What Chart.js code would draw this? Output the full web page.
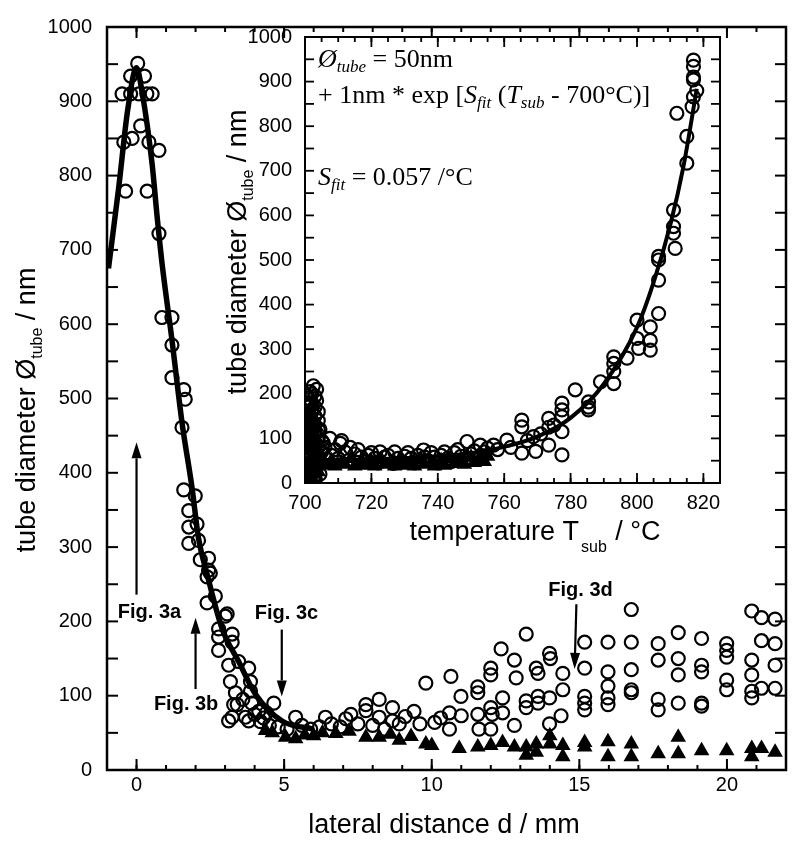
<!DOCTYPE html>
<html>
<head>
<meta charset="utf-8">
<script src="https://cdn.jsdelivr.net/npm/chart.js@4.4.1/dist/chart.umd.min.js"></script>
<style>
    html, body { margin: 0; padding: 0; background: #fff; }
    #wrap { position: relative; width: 799px; height: 845px; }
    #main { position: absolute; left: 0; top: 0; }
    #inset { position: absolute; left: 200px; top: 0; }
</style>
</head>
<body>
<div id="wrap">
    <canvas id="main" width="799" height="845"></canvas>
    <canvas id="inset" width="540" height="560"></canvas>
</div>
<script>
(function() {
    'use strict';

    // ---- main plot: lateral distance d (mm) vs tube diameter (nm)
    var mainXLabels = [0, 5, 10, 15, 20];
    var mainYLabels = [0, 100, 200, 300, 400, 500, 600, 700, 800, 900, 1000];

    var mainFit = [
        [-0.95, 675], [-0.6, 785], [-0.3, 888], [0, 945], [0.19, 912], [0.53, 815],
        [0.7, 744], [0.87, 680], [1.2, 579], [1.54, 468], [1.88, 380], [2.1, 312],
        [2.4, 262], [2.9, 190], [3.46, 146], [4.03, 102], [4.93, 66], [6.0, 55]
    ];

    var mainCircles = [
        [-0.2, 934], [0.04, 951], [0.27, 934], [-0.49, 910], [-0.2, 910], [0.08, 910],
        [0.35, 910], [0.53, 910], [0.14, 867], [-0.43, 845], [-0.15, 850], [0.42, 845],
        [0.76, 834], [-0.37, 779], [0.36, 779], [0.76, 722],
        [0.86, 609], [1.2, 609], [1.2, 572], [1.2, 528], [1.6, 512], [1.65, 499], [1.54, 461],
        [1.6, 377], [1.99, 369], [1.77, 349], [1.77, 327], [2.05, 331], [1.77, 305], [2.1, 309],
        [2.16, 283], [2.44, 285], [2.44, 269], [2.39, 260], [2.5, 265], [2.67, 234], [2.39, 225],
        [3.01, 207], [3.07, 210], [2.78, 190], [3.24, 183], [3.24, 172], [2.78, 179], [2.78, 161],
        [3.46, 146], [3.12, 141], [3.8, 137], [3.18, 119], [3.86, 119], [3.35, 104], [3.86, 106],
        [3.29, 88], [3.41, 88], [3.12, 66], [3.24, 71], [3.69, 71], [3.8, 66], [3.6, 95],
        [3.9, 90], [4.0, 75], [4.14, 79], [4.3, 70], [4.65, 90], [4.4, 77], [4.2, 65], [4.5, 60],
        [4.8, 58], [5.1, 55], [5.39, 71], [5.6, 60], [5.9, 55], [6.2, 58], [6.4, 71], [6.6, 62],
        [6.9, 58], [7.09, 69], [7.26, 75], [7.5, 62], [7.77, 88], [8.22, 95], [7.77, 80],
        [8.22, 71], [8.67, 84], [8.67, 66], [8.0, 60], [8.4, 55], [8.9, 62], [9.1, 72], [9.4, 79],
        [9.6, 62], [9.8, 117], [10.1, 64], [10.3, 70],
        [10.65, 126], [10.99, 99], [10.6, 77], [11.0, 73], [10.6, 55], [11.56, 112], [11.56, 104],
        [11.56, 75], [11.6, 55], [12.0, 137], [12.0, 128], [12.0, 84], [12.05, 75], [12.0, 55],
        [12.35, 163], [12.4, 97], [12.4, 77], [12.8, 148], [12.86, 124], [12.8, 60], [13.2, 183],
        [13.2, 93], [13.2, 84], [13.54, 137], [13.6, 130], [13.6, 99], [13.6, 90], [13.99, 157],
        [14.02, 150], [13.99, 97], [13.99, 62], [14.44, 130], [14.44, 108], [14.38, 73],
        [15.18, 172], [15.18, 137], [15.18, 99], [15.18, 90], [15.18, 81],
        [15.97, 172], [15.97, 132], [15.97, 113], [15.97, 97], [15.97, 88],
        [16.76, 216], [16.76, 172], [16.76, 135], [16.76, 108], [16.76, 104],
        [17.67, 170], [17.67, 148], [17.67, 95], [17.67, 81],
        [18.35, 185], [18.35, 150], [18.35, 128], [18.35, 90],
        [19.14, 177], [19.14, 141], [19.14, 132], [19.14, 90], [19.14, 86],
        [19.99, 170], [19.99, 161], [19.99, 152], [19.99, 121], [19.99, 108],
        [20.84, 214], [20.84, 148], [20.84, 128], [20.84, 106], [20.84, 97],
        [21.17, 205], [21.17, 174], [21.17, 110],
        [21.63, 203], [21.63, 170], [21.63, 141], [21.63, 110]
    ];

    var mainTriangles = [
        [4.37, 53], [4.6, 50], [5.05, 44], [5.39, 42], [5.7, 47], [6.0, 46], [6.3, 50],
        [6.75, 49], [7.2, 52], [7.77, 44], [8.22, 44], [8.6, 48], [8.9, 40], [9.3, 45],
        [9.8, 35], [10.0, 33], [10.93, 29], [11.56, 31], [12.0, 33], [12.4, 37], [12.8, 31],
        [13.2, 31], [13.2, 20], [13.54, 35], [13.54, 24], [14.0, 46], [14.0, 35], [14.44, 33],
        [14.44, 18], [15.18, 37], [15.18, 31], [15.97, 38], [15.97, 18], [16.76, 35],
        [16.76, 18], [17.67, 22], [18.35, 44], [18.35, 22], [19.14, 26], [19.99, 26],
        [20.84, 29], [20.84, 18], [21.17, 29], [21.63, 24]
    ];

    // ---- inset: substrate temperature (degC) vs tube diameter (nm)
    var insetXLabels = [700, 720, 740, 760, 780, 800, 820];
    var insetYLabels = [0, 100, 200, 300, 400, 500, 600, 700, 800, 900, 1000];

    var insetFit = [
        [700, 51], [720, 53], [740, 60], [750, 67], [760, 81], [770, 104], [780, 146],
        [790, 222], [800, 349], [805, 450], [810, 578], [814, 710], [818, 884]
    ];

    var insetCircles = [
        // dense cluster right at 700-705 degC
        [701, 10], [701, 30], [701, 50], [701, 70], [701, 90], [701, 110], [701, 130], [701, 150],
        [701, 170], [701, 190], [702, 20], [702, 40], [702, 60], [702, 80], [702, 100], [702, 120],
        [702, 140], [702, 160], [702, 180], [702, 200], [702.5, 218], [703, 10], [703, 30], [703, 50],
        [703, 70], [703, 90], [703, 110], [703, 130], [703, 150], [703, 170], [703, 195], [704, 40],
        [704, 60], [704, 80], [704, 100], [704, 120], [705, 70], [705, 95],
        [700.5, 20], [700.5, 60], [700.5, 100], [700.5, 140], [700.5, 180], [701.5, 205],
        [703.5, 185], [704, 160], [704, 140], [704.5, 20], [703.5, 210], [702.5, 8],
        // low plateau
        [704.5, 120], [705.5, 90], [706, 80], [707.5, 100], [708, 62], [709, 75], [710, 55],
        [710.6, 89], [711, 95], [712, 70], [713, 50], [713.6, 80], [715, 65], [716, 75], [717, 58],
        [718, 48], [719, 62], [720, 68], [721, 55], [722, 45], [722.6, 70], [724, 58], [725, 62],
        [726.6, 44], [727, 70], [728, 55], [729, 48], [730, 60], [731, 68], [732, 55], [733, 45],
        [734, 62], [735.7, 74], [736, 58], [737, 50], [738, 68], [739, 58], [740, 45], [741, 62],
        [742, 70], [743, 55], [744, 48], [745, 68], [746, 75], [747, 60], [748.8, 93], [749, 55],
        [750, 65], [751, 72], [752.8, 85], [753, 62], [754, 70], [755, 78], [756.8, 85], [758, 75],
        // rising branch
        [760.8, 96], [762, 80], [765.3, 141], [765.3, 126], [765.3, 67],
        [767, 95], [768.8, 104], [769.5, 71], [771, 110], [773.4, 145], [773.4, 125], [773.4, 85],
        [775, 130], [777.4, 179], [777.4, 164], [777.4, 149], [777.4, 115], [777.4, 63],
        [781.4, 209], [785.4, 182], [785.4, 164], [785.4, 170], [789, 227], [793, 283], [793, 268],
        [793, 250], [793, 223], [797, 280], [800, 365], [800, 324], [800.5, 302], [804, 350],
        [804, 320], [804, 298], [806.5, 380], [806.5, 455], [806.5, 500], [806.5, 508],
        [811.5, 526], [811, 560], [811, 612], [811, 575], [815, 717], [815, 777], [812, 829],
        [816.6, 844], [817, 866], [817, 904], [817, 934], [817, 948], [817, 910], [818, 880]
    ];

    var insetTriangles = [
        [701, 15], [701, 45], [701, 75], [701, 105], [701, 135], [702, 10], [702, 30], [702, 60],
        [702, 90], [702, 120], [702, 150], [703, 20], [703, 45], [703, 75], [703, 105], [703, 140],
        [704, 25], [704, 55], [705, 55], [706, 40], [708, 50], [709, 38], [711, 45], [712, 42],
        [714, 55], [715, 38], [717, 50], [718, 40], [720, 48], [721, 38], [723, 52], [724, 42],
        [726, 45], [727, 38], [729, 50], [730, 40], [732, 48], [733, 38], [735, 52], [736, 42],
        [738, 45], [739, 38], [741, 50], [742, 40], [744, 55], [745, 44], [747, 52], [748, 42],
        [750, 58], [751, 46], [753, 55], [754, 48], [755, 60],
        [701.5, 165], [702.5, 175], [703.5, 125], [703.5, 90], [700.5, 40], [700.5, 120]
    ];

    // annotation arrows on the main plot (data coordinates)
    var figNotes = [
        { text: 'Fig. 3a', tx: 0.44, ty: 205, x1: 0, y1: 236, x2: 0, y2: 441 },
        { text: 'Fig. 3b', tx: 1.68, ty: 81, x1: 2, y1: 109, x2: 2, y2: 205 },
        { text: 'Fig. 3c', tx: 5.08, ty: 203, x1: 4.92, y1: 189, x2: 4.92, y2: 99 },
        { text: 'Fig. 3d', tx: 15.04, ty: 234, x1: 14.9, y1: 223, x2: 14.84, y2: 136 }
    ];

    var SANS = "'Liberation Sans', Arial, Helvetica, sans-serif";
    var SERIF = "'Liberation Serif', 'Times New Roman', serif";

    function font(size, style, family) {
        return (style || '') + ' ' + size + 'px ' + (family || SANS);
    }

    function toXY(list) {
        return list.map(function(p) { return { x: p[0], y: p[1] }; });
    }

    function range(from, to, step) {
        var out = [];
        for (var v = from; v <= to + 1e-9; v += step) {
            out.push(v);
        }
        return out;
    }

    // Draw a row of text runs (for sub scripts / italics)
    function drawRuns(ctx, runs, x, y, align, rot) {
        ctx.save();
        ctx.translate(x, y);
        if (rot) {
            ctx.rotate(rot);
        }
        ctx.fillStyle = '#000';
        ctx.textBaseline = 'alphabetic';
        ctx.textAlign = 'left';
        var total = 0;
        runs.forEach(function(r) {
            ctx.font = r.font;
            r.w = ctx.measureText(r.t).width;
            total += r.w + (r.dx || 0);
        });
        var cx = align === 'center' ? -total / 2 : 0;
        runs.forEach(function(r) {
            ctx.font = r.font;
            cx += (r.dx || 0);
            ctx.fillText(r.t, cx, r.dy || 0);
            cx += r.w;
        });
        ctx.restore();
    }

    // Frame with inward ticks on all four sides
    var frameTicks = {
        id: 'frameTicks',
        afterDatasetsDraw: function(chart, args, opts) {
            var ctx = chart.ctx, a = chart.chartArea;
            var sx = chart.scales.x, sy = chart.scales.y;
            ctx.save();
            ctx.strokeStyle = '#000';
            ctx.lineWidth = opts.tickWidth;

            function seg(x1, y1, x2, y2) {
                ctx.beginPath();
                ctx.moveTo(x1, y1);
                ctx.lineTo(x2, y2);
                ctx.stroke();
            }

            opts.xTicks.forEach(function(t) {
                t.values.forEach(function(v) {
                    var px = sx.getPixelForValue(v);
                    seg(px, a.bottom, px, a.bottom - t.len);
                    seg(px, a.top, px, a.top + t.len);
                });
            });
            opts.yTicks.forEach(function(t) {
                t.values.forEach(function(v) {
                    var py = sy.getPixelForValue(v);
                    seg(a.left, py, a.left + t.len, py);
                    seg(a.right, py, a.right - t.len, py);
                });
            });

            ctx.lineWidth = opts.frameWidth;
            ctx.strokeRect(a.left, a.top, a.right - a.left, a.bottom - a.top);
            ctx.restore();
        }
    };

    // Axis titles and free text
    var richText = {
        id: 'richText',
        afterDraw: function(chart, args, opts) {
            opts.items.forEach(function(it) {
                drawRuns(chart.ctx, it.runs, it.x, it.y, it.align, it.rot);
            });
        }
    };

    // Arrows with "Fig. 3x" labels
    var figArrows = {
        id: 'figArrows',
        afterDatasetsDraw: function(chart, args, opts) {
            if (!opts.notes) {
                return;
            }
            var ctx = chart.ctx, sx = chart.scales.x, sy = chart.scales.y;
            ctx.save();
            ctx.strokeStyle = '#000';
            ctx.fillStyle = '#000';
            ctx.lineWidth = 2.2;
            opts.notes.forEach(function(n) {
                var x1 = sx.getPixelForValue(n.x1), y1 = sy.getPixelForValue(n.y1);
                var x2 = sx.getPixelForValue(n.x2), y2 = sy.getPixelForValue(n.y2);
                var ang = Math.atan2(y2 - y1, x2 - x1);
                var hl = 16, hw = 5;
                var bx = x2 - hl * Math.cos(ang), by = y2 - hl * Math.sin(ang);
                ctx.beginPath();
                ctx.moveTo(x1, y1);
                ctx.lineTo(bx, by);
                ctx.stroke();
                ctx.beginPath();
                ctx.moveTo(x2, y2);
                ctx.lineTo(bx + hw * Math.sin(ang), by - hw * Math.cos(ang));
                ctx.lineTo(bx - hw * Math.sin(ang), by + hw * Math.cos(ang));
                ctx.closePath();
                ctx.fill();

                ctx.font = font(20, 'bold');
                ctx.textAlign = 'center';
                ctx.textBaseline = 'alphabetic';
                ctx.fillText(n.text, sx.getPixelForValue(n.tx), sy.getPixelForValue(n.ty));
            });
            ctx.restore();
        }
    };

    function fixedTicks(values) {
        return function(scale) {
            scale.ticks = values.map(function(v) { return { value: v }; });
        };
    }

    function tickFont() {
        return { color: '#000', font: { family: SANS, size: 20 }, callback: function(v) { return String(v); } };
    }

    var circleStyle = { pointStyle: 'circle', pointRadius: 6.5, borderColor: '#000', borderWidth: 2.2, backgroundColor: 'rgba(0,0,0,0)' };
    var triangleStyle = { pointStyle: 'triangle', pointRadius: 7.5, borderColor: '#000', borderWidth: 1.5, backgroundColor: '#000' };

    function series(list, style) {
        return Object.assign({ data: toXY(list) }, style);
    }

    // ---- main chart
    var mainX = tickFont();
    mainX.padding = 3;
    mainX.maxRotation = 0;
    var mainY = tickFont();
    mainY.padding = 15;

    new Chart(document.getElementById('main'), {
        type: 'scatter',
        data: {
            datasets: [
                {
                    data: toXY(mainFit), showLine: true, borderColor: '#000', borderWidth: 5.5,
                    pointRadius: 0, cubicInterpolationMode: 'monotone', fill: false
                },
                series(mainCircles, circleStyle),
                series(mainTriangles, triangleStyle)
            ]
        },
        options: {
            responsive: false,
            animation: false,
            devicePixelRatio: 1,
            layout: { padding: { left: 0, top: 15, right: 13, bottom: 0 } },
            plugins: {
                legend: { display: false },
                tooltip: { enabled: false },
                frameTicks: {
                    frameWidth: 2.5, tickWidth: 2,
                    xTicks: [{ values: range(-1, 22, 1), len: 5 }, { values: mainXLabels, len: 11 }],
                    yTicks: [{ values: range(0, 1000, 50), len: 11 }]
                },
                figArrows: { notes: figNotes },
                richText: {
                    items: [
                        { runs: [{ t: 'lateral distance d / mm', font: font(27) }], x: 444, y: 833, align: 'center' },
                        {
                            runs: [
                                { t: 'tube diameter \u00d8', font: font(27) },
                                { t: 'tube', font: font(16), dy: 7 },
                                { t: ' / nm', font: font(27) }
                            ],
                            x: 35, y: 410, align: 'center', rot: -Math.PI / 2
                        }
                    ]
                }
            },
            scales: {
                x: {
                    type: 'linear', min: -1, max: 22,
                    grid: { display: false, drawTicks: false }, border: { display: false },
                    ticks: mainX,
                    afterBuildTicks: fixedTicks(mainXLabels),
                    afterFit: function(s) { s.height = 75; }
                },
                y: {
                    type: 'linear', min: 0, max: 1000,
                    grid: { display: false, drawTicks: false }, border: { display: false },
                    ticks: mainY,
                    afterBuildTicks: fixedTicks(mainYLabels),
                    afterFit: function(s) { s.width = 107; }
                }
            }
        },
        plugins: [frameTicks, figArrows, richText]
    });

    // ---- inset chart
    var insetX = tickFont();
    insetX.padding = 8;
    insetX.maxRotation = 0;
    var insetY = tickFont();
    insetY.padding = 13;

    new Chart(document.getElementById('inset'), {
        type: 'scatter',
        data: {
            datasets: [
                {
                    data: toXY(insetFit), showLine: true, borderColor: '#000', borderWidth: 4,
                    pointRadius: 0, cubicInterpolationMode: 'monotone', fill: false
                },
                series(insetCircles, circleStyle),
                series(insetTriangles, triangleStyle)
            ]
        },
        options: {
            responsive: false,
            animation: false,
            devicePixelRatio: 1,
            layout: { padding: { left: 0, top: 37, right: 20, bottom: 0 } },
            plugins: {
                legend: { display: false },
                tooltip: { enabled: false },
                frameTicks: {
                    frameWidth: 2, tickWidth: 1.8,
                    xTicks: [{ values: range(700, 825, 5), len: 5 }, { values: insetXLabels, len: 10 }],
                    yTicks: [{ values: range(0, 1000, 50), len: 9 }]
                },
                richText: {
                    items: [
                        {
                            runs: [
                                { t: 'temperature T', font: font(27) },
                                { t: 'sub', font: font(16), dy: 12, dx: 2 },
                                { t: ' / \u00b0C', font: font(27), dx: 1 }
                            ],
                            x: 335, y: 540, align: 'center'
                        },
                        {
                            runs: [
                                { t: 'tube diameter \u00d8', font: font(27) },
                                { t: 'tube', font: font(16), dy: 7 },
                                { t: ' / nm', font: font(27) }
                            ],
                            x: 46, y: 252, align: 'center', rot: -Math.PI / 2
                        },
                        {
                            runs: [
                                { t: '\u00d8', font: font(26, 'italic', SERIF) },
                                { t: 'tube', font: font(17, 'italic', SERIF), dy: 5 },
                                { t: ' = 50nm', font: font(26, '', SERIF) }
                            ],
                            x: 118, y: 67
                        },
                        {
                            runs: [
                                { t: '+ 1nm * exp [', font: font(26, '', SERIF) },
                                { t: 'S', font: font(26, 'italic', SERIF) },
                                { t: 'fit', font: font(17, 'italic', SERIF), dy: 5 },
                                { t: ' (', font: font(26, '', SERIF) },
                                { t: 'T', font: font(26, 'italic', SERIF) },
                                { t: 'sub', font: font(17, 'italic', SERIF), dy: 5 },
                                { t: ' - 700\u00b0C)]', font: font(26, '', SERIF) }
                            ],
                            x: 118, y: 103
                        },
                        {
                            runs: [
                                { t: 'S', font: font(26, 'italic', SERIF) },
                                { t: 'fit', font: font(17, 'italic', SERIF), dy: 5 },
                                { t: ' = 0.057 /\u00b0C', font: font(26, '', SERIF) }
                            ],
                            x: 118, y: 185
                        }
                    ]
                }
            },
            scales: {
                x: {
                    type: 'linear', min: 700, max: 825,
                    grid: { display: false, drawTicks: false }, border: { display: false },
                    ticks: insetX,
                    afterBuildTicks: fixedTicks(insetXLabels),
                    afterFit: function(s) { s.height = 77; }
                },
                y: {
                    type: 'linear', min: 0, max: 1000,
                    grid: { display: false, drawTicks: false }, border: { display: false },
                    ticks: insetY,
                    afterBuildTicks: fixedTicks(insetYLabels),
                    afterFit: function(s) { s.width = 105; }
                }
            }
        },
        plugins: [frameTicks, richText]
    });
})();
</script>
</body>
</html>
